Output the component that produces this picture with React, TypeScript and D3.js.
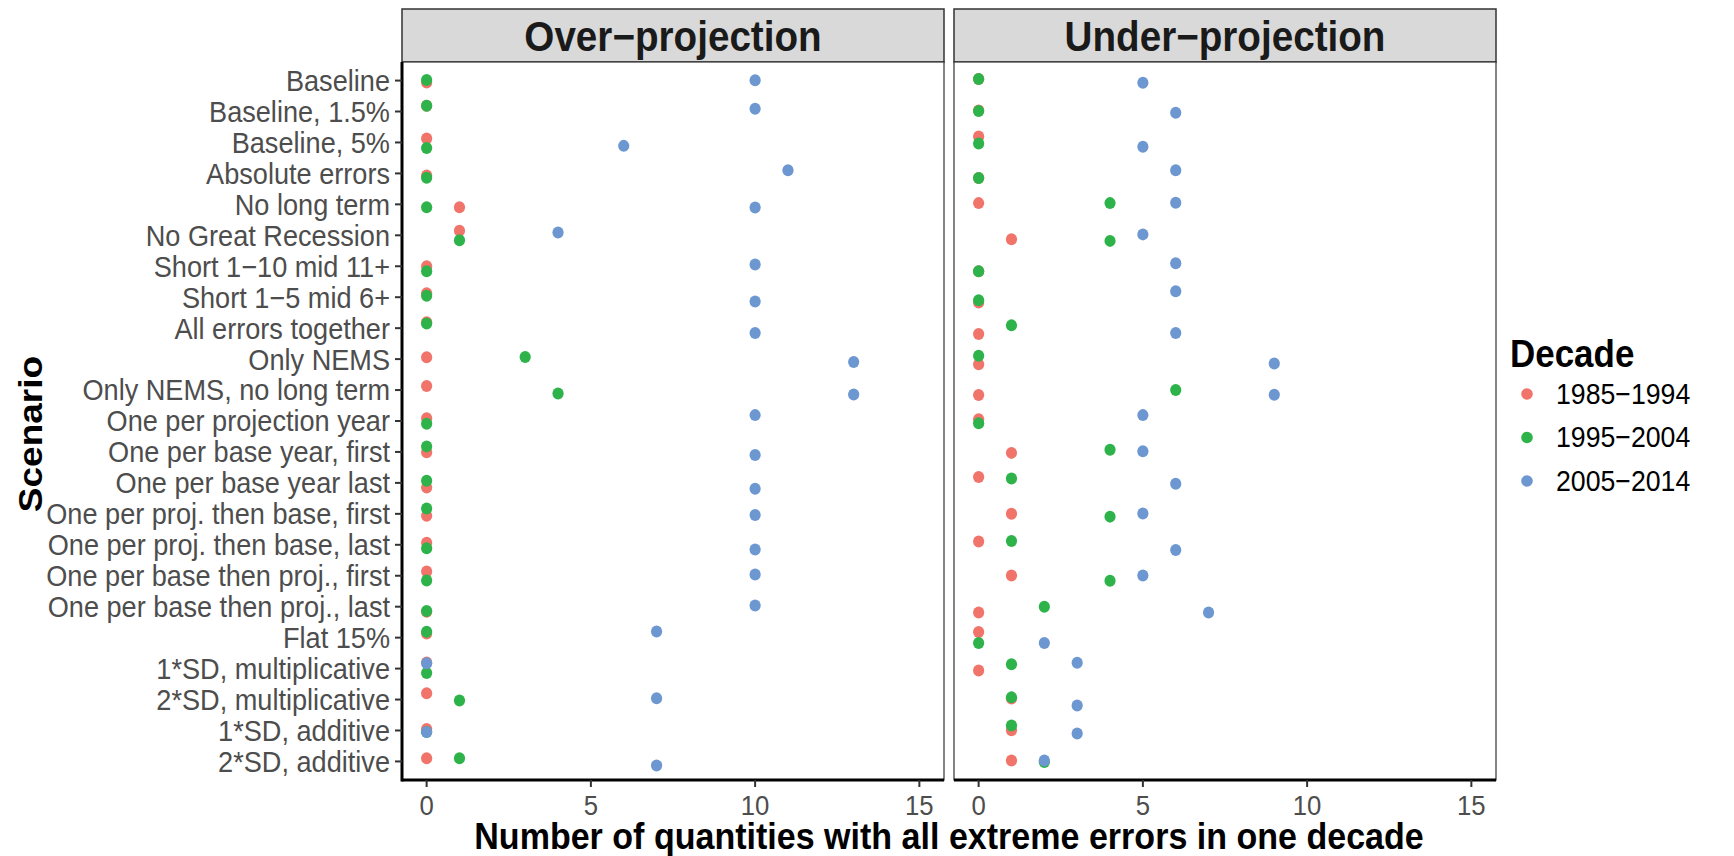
import React from "react";
import * as d3 from "d3";

const scenarios = [
  "Baseline",
  "Baseline, 1.5%",
  "Baseline, 5%",
  "Absolute errors",
  "No long term",
  "No Great Recession",
  "Short 1−10 mid 11+",
  "Short 1−5 mid 6+",
  "All errors together",
  "Only NEMS",
  "Only NEMS, no long term",
  "One per projection year",
  "One per base year, first",
  "One per base year last",
  "One per proj. then base, first",
  "One per proj. then base, last",
  "One per base then proj., first",
  "One per base then proj., last",
  "Flat 15%",
  "1*SD, multiplicative",
  "2*SD, multiplicative",
  "1*SD, additive",
  "2*SD, additive",
];

const panelNames = ["Over−projection", "Under−projection"];
const decades = ["1985−1994", "1995−2004", "2005−2014"];
const xTicks = [0, 5, 10, 15];

// Over-projection counts per decade
const over1985 = [0, 0, 0, 0, 1, 1, 0, 0, 0, 0, 0, 0, 0, 0, 0, 0, 0, 0, 0, 0, 0, 0, 0];
const over1995 = [0, 0, 0, 0, 0, 1, 0, 0, 0, 3, 4, 0, 0, 0, 0, 0, 0, 0, 0, 0, 1, 0, 1];
const over2005 = [10, 10, 6, 11, 10, 4, 10, 10, 10, 13, 13, 10, 10, 10, 10, 10, 10, 10, 7, 0, 7, 0, 7];

// Under-projection counts per decade
const under1985 = [0, 0, 0, 0, 0, 1, 0, 0, 0, 0, 0, 0, 1, 0, 1, 0, 1, 0, 0, 0, 1, 1, 1];
const under1995 = [0, 0, 0, 0, 4, 4, 0, 0, 1, 0, 6, 0, 4, 1, 4, 1, 4, 2, 0, 1, 1, 1, 2];
const under2005 = [5, 6, 5, 6, 6, 5, 6, 6, 6, 9, 9, 5, 5, 6, 5, 6, 5, 7, 2, 3, 3, 3, 2];

// vertical jitter (in row units, positive = downward)
const overJit1985 = [0.06, -0.19, -0.13, 0.07, 0.09, -0.15, 0, -0.13, -0.19, -0.06, -0.13, -0.09, 0.01, 0.15, 0.06, -0.07, -0.14, 0.16, -0.13, -0.2, -0.2, -0.05, -0.1];
const overJit1995 = [-0.02, -0.19, 0.18, 0.14, 0.09, 0.16, 0.16, -0.05, -0.15, -0.07, 0.11, 0.09, -0.18, -0.07, -0.17, 0.11, 0.15, 0.14, -0.19, 0.14, 0.03, 0.05, -0.1];
const overJit2005 = [-0.01, -0.09, 0.11, -0.1, 0.1, -0.09, -0.06, 0.14, 0.16, 0.09, 0.14, -0.19, 0.1, 0.19, 0.04, 0.15, -0.04, -0.04, -0.2, -0.17, -0.04, 0.05, 0.13];
const underJit1985 = [-0.05, -0.03, -0.19, 0.15, -0.04, 0.13, 0.16, 0.17, 0.19, 0.17, 0.16, -0.06, 0.03, -0.19, 0, -0.11, -0.01, 0.19, -0.18, 0.06, -0.03, -0.01, -0.03];
const underJit1995 = [-0.05, -0.02, 0.03, 0.15, -0.04, 0.18, 0.16, 0.1, -0.09, -0.11, 0, 0.07, -0.07, -0.14, 0.09, -0.12, 0.16, 0, 0.17, -0.14, -0.07, -0.16, 0.02];
const underJit2005 = [0.07, 0.04, 0.14, -0.1, -0.05, -0.03, -0.1, -0.19, 0.16, 0.14, 0.15, -0.19, -0.02, 0.03, -0.01, 0.17, -0.01, 0.19, 0.17, -0.19, 0.19, 0.1, -0.03];

const colors = ["#F1746B", "#2DB34A", "#6D97D0"];

const panelValues = [
  [over1985, over1995, over2005],
  [under1985, under1995, under2005],
];
const panelJitter = [
  [overJit1985, overJit1995, overJit2005],
  [underJit1985, underJit1995, underJit2005],
];

const W = 1734;
const H = 856;
const FONT = "'Liberation Sans', Arial, Helvetica, sans-serif";
const SX = 0.92; // horizontal squeeze of glyphs seen in the reference
const panelX: [number, number][] = [
  [402, 944],
  [954, 1496],
];
const panelTop = 62;
const panelBottom = 780;
const stripTop = 9;

type TProps = {
  x: number;
  y: number;
  size: number;
  anchor?: "start" | "middle" | "end";
  bold?: boolean;
  fill?: string;
  baseline?: string;
  rotate?: number;
  children: React.ReactNode;
};

function Txt({ x, y, size, anchor = "start", bold, fill = "#000", baseline, rotate, children }: TProps) {
  return (
    <text
      transform={`translate(${x},${y}) scale(${SX},1)${rotate ? ` rotate(${rotate})` : ""}`}
      textAnchor={anchor}
      dominantBaseline={baseline}
      fontSize={size}
      fontWeight={bold ? "bold" : "normal"}
      fill={fill}
    >
      {children}
    </text>
  );
}

export default function App() {
  const y = d3.scalePoint<string>().domain(scenarios).range([panelTop, panelBottom]).padding(0.6);
  const step = y.step();

  return (
    <svg
      width={W}
      height={H}
      viewBox={`0 0 ${W} ${H}`}
      style={{ position: "absolute", left: 0, top: 0, background: "#fff" }}
      fontFamily={FONT}
    >
      <rect x={0} y={0} width={W} height={H} fill="#fff" />
      {panelX.map(([x0, x1], pi) => {
        const x = d3.scaleLinear().domain([-0.75, 15.75]).range([x0, x1]);
        return (
          <g key={pi}>
            {/* strip */}
            <rect x={x0} y={stripTop} width={x1 - x0} height={panelTop - stripTop} fill="#D9D9D9" stroke="#333" strokeWidth={1.5} />
            <Txt x={(x0 + x1) / 2} y={(stripTop + panelTop) / 2 + 1} size={42} bold anchor="middle" baseline="central" fill="#1A1A1A">
              {panelNames[pi]}
            </Txt>
            {/* panel */}
            <rect x={x0} y={panelTop} width={x1 - x0} height={panelBottom - panelTop} fill="#fff" stroke="#333" strokeWidth={1.2} />
            {/* points */}
            {panelValues[pi].map((vals, di) =>
              vals.map((v, si) => (
                <ellipse
                  key={`${di}-${si}`}
                  cx={x(v)}
                  cy={(y(scenarios[si]) as number) + panelJitter[pi][di][si] * step}
                  rx={5.6}
                  ry={6}
                  fill={colors[di]}
                />
              ))
            )}
            {/* bottom axis */}
            <line x1={x0} x2={x1} y1={panelBottom} y2={panelBottom} stroke="#000" strokeWidth={3} />
            {xTicks.map((t) => (
              <g key={t}>
                <line x1={x(t)} x2={x(t)} y1={panelBottom} y2={panelBottom + 7} stroke="#333" strokeWidth={2} />
                <Txt x={x(t)} y={815} size={28} anchor="middle" fill="#4D4D4D">
                  {t}
                </Txt>
              </g>
            ))}
          </g>
        );
      })}
      {/* left axis */}
      <line x1={panelX[0][0]} x2={panelX[0][0]} y1={panelTop} y2={panelBottom + 1.5} stroke="#000" strokeWidth={3} />
      {scenarios.map((s) => (
        <g key={s}>
          <line x1={panelX[0][0] - 7} x2={panelX[0][0]} y1={y(s)} y2={y(s)} stroke="#333" strokeWidth={2} />
          <Txt x={panelX[0][0] - 12} y={y(s) as number} size={29.5} anchor="end" baseline="central" fill="#4D4D4D">
            {s}
          </Txt>
        </g>
      ))}
      {/* axis titles */}
      <Txt x={(panelX[0][0] + panelX[1][1]) / 2} y={849} size={37} bold anchor="middle">
        Number of quantities with all extreme errors in one decade
      </Txt>
      <Txt x={42} y={434} size={37} bold anchor="middle" rotate={-90}>
        Scenario
      </Txt>
      {/* legend */}
      <Txt x={1510} y={354} size={38} bold baseline="central">
        Decade
      </Txt>
      {decades.map((d, i) => (
        <g key={d}>
          <circle cx={1527} cy={394 + i * 43.5} r={5.8} fill={colors[i]} />
          <Txt x={1556} y={394 + i * 43.5} size={29} baseline="central">
            {d}
          </Txt>
        </g>
      ))}
    </svg>
  );
}
